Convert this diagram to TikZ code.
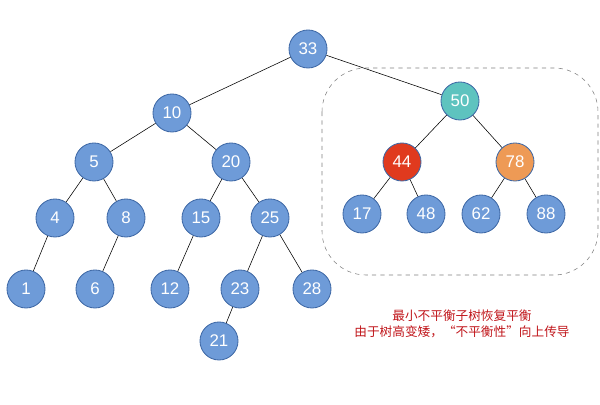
\documentclass[tikz,border=0pt]{standalone}
\usepackage{fontspec}
\setmainfont{Liberation Sans}
\newfontfamily\cjk{Noto Sans CJK SC}
\usetikzlibrary{calc}
\definecolor{nodeblue}{HTML}{6E9BD8}
\definecolor{nodeline}{HTML}{3F69A6}
\definecolor{nodeteal}{HTML}{5EC3BF}
\definecolor{nodered}{HTML}{E03A1E}
\definecolor{nodeorange}{HTML}{EE9A55}
\definecolor{notered}{HTML}{C0161B}
\begin{document}
\begin{tikzpicture}[x=0.025cm,y=-0.025cm,
    tnode/.style={circle,draw=nodeline,fill=nodeblue,line width=0.6pt,minimum size=0.95cm,inner sep=0pt,text=white,font=\large}]
            \useasboundingbox (0,0) rectangle (600,405);
            \node[tnode] (n33) at (308,49) {33};
            \node[tnode] (n10) at (172,113) {10};
            \node[tnode,fill=nodeteal] (n50) at (460,101) {50};
            \node[tnode] (n5) at (94,162) {5};
            \node[tnode] (n20) at (231,162) {20};
            \node[tnode,fill=nodered] (n44) at (402,162) {44};
            \node[tnode,fill=nodeorange] (n78) at (515,162) {78};
            \node[tnode] (n4) at (55,218) {4};
            \node[tnode] (n8) at (126,218) {8};
            \node[tnode] (n15) at (201,218) {15};
            \node[tnode] (n25) at (270,218) {25};
            \node[tnode] (n17) at (362,214) {17};
            \node[tnode] (n48) at (426,214) {48};
            \node[tnode] (n62) at (481,214) {62};
            \node[tnode] (n88) at (546,214) {88};
            \node[tnode] (n1) at (26,289) {1};
            \node[tnode] (n6) at (95,289) {6};
            \node[tnode] (n12) at (170,289) {12};
            \node[tnode] (n23) at (240,289) {23};
            \node[tnode] (n28) at (312,289) {28};
            \node[tnode] (n21) at (219,341) {21};
            \draw (n33) -- (n10);
            \draw (n33) -- (n50);
            \draw (n10) -- (n5);
            \draw (n10) -- (n20);
            \draw (n50) -- (n44);
            \draw (n50) -- (n78);
            \draw (n5) -- (n4);
            \draw (n5) -- (n8);
            \draw (n20) -- (n15);
            \draw (n20) -- (n25);
            \draw (n44) -- (n17);
            \draw (n44) -- (n48);
            \draw (n78) -- (n62);
            \draw (n78) -- (n88);
            \draw (n4) -- (n1);
            \draw (n8) -- (n6);
            \draw (n15) -- (n12);
            \draw (n25) -- (n23);
            \draw (n25) -- (n28);
            \draw (n23) -- (n21);
            \draw[gray,dashed,rounded corners=1.1cm] (322,68) rectangle (598,275);
            \node[text=notered,font=\cjk\small,align=center] (note) at (462,324) {最小不平衡子树恢复平衡\\由于树高变矮，“不平衡性”向上传导};
        \end{tikzpicture}
\end{document}
